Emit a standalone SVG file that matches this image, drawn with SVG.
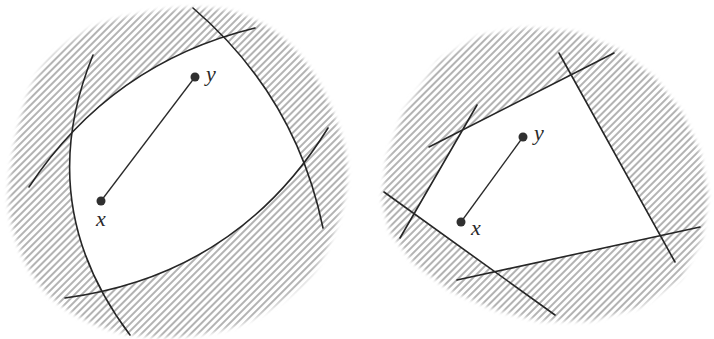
<svg xmlns="http://www.w3.org/2000/svg" width="714" height="339" viewBox="0 0 714 339">
<style>
.bd{fill:none;stroke:#262626;stroke-width:1.6;stroke-linecap:round}
.seg{stroke:#2a2a2a;stroke-width:1.3}
.pt{fill:#303030}
.lb{font-family:"Liberation Serif",serif;font-style:italic;font-size:22px;fill:#2a2a2a}
</style>
<defs>
<pattern id="hatch" patternUnits="userSpaceOnUse" width="5" height="10" patternTransform="rotate(45)">
<line x1="1" y1="0" x2="1" y2="10" stroke="#808080" stroke-width="1.2"/>
</pattern>
<filter id="soft" x="-10%" y="-10%" width="120%" height="120%"><feGaussianBlur stdDeviation="2"/></filter>
<mask id="mL" maskUnits="userSpaceOnUse" x="0" y="0" width="714" height="339">
<path filter="url(#soft)" fill="#fff" d="M9,185 C11.2,157.2 20.7,108.3 33,83 C45.3,57.7 65.2,44.5 83,33 C100.8,21.5 121.3,18.2 140,14 C158.7,9.8 178.3,8 195,8 C211.7,8 225,8.7 240,14 C255,19.3 271.7,28.2 285,40 C298.3,51.8 310,66.7 320,85 C330,103.3 341.2,130 345,150 C348.8,170 347.5,185.8 343,205 C338.5,224.2 328,249.2 318,265 C308,280.8 297.2,289.7 283,300 C268.8,310.3 252.3,320.8 233,327 C213.7,333.2 188.3,336.8 167,337 C145.7,337.2 124.2,334.5 105,328 C85.8,321.5 66.2,311 52,298 C37.8,285 27.2,268.8 20,250 C12.8,231.2 6.8,212.8 9,185 Z"/>
</mask>
<mask id="mR" maskUnits="userSpaceOnUse" x="0" y="0" width="714" height="339">
<path filter="url(#soft)" fill="#fff" stroke="#fff" stroke-width="6" stroke-linejoin="round" d="M385,200 L390,158 L407,112 L441,63 L480,39 L526,31 L575,35 L619,53 L653,80 L679,113 L697,152 L705,195 L699,238 L678,277 L639,304 L590,318 L540,318 L496,307 L452,288 L415,260 L393,231 Z"/>
</mask>
<clipPath id="cA"><path d="M0,240 L29,187 Q111,63 255,28 L400,0 L400,400 L0,400 Z"/></clipPath>
<clipPath id="cB"><path d="M193,8 Q296,96 323,228 L330,400 L0,400 L0,0 L190,0 Z"/></clipPath>
<clipPath id="cC"><path d="M65,298 Q237,275 328,128 L350,0 L0,0 L0,300 Z"/></clipPath>
<clipPath id="cD"><path d="M93,55 Q32,205 130,335 L400,340 L400,0 L100,0 Z"/></clipPath>
</defs>
<rect width="714" height="339" fill="#fff"/>

<g id="left-figure">
<rect width="714" height="339" fill="url(#hatch)" mask="url(#mL)"/>
<g clip-path="url(#cA)"><g clip-path="url(#cB)"><g clip-path="url(#cC)"><rect x="0" y="0" width="360" height="339" fill="#fff" clip-path="url(#cD)"/></g></g></g>
<g id="left-boundaries">
<path class="bd" d="M29,187 Q111,63 255,28"/>
<path class="bd" d="M193,8 Q296,96 323,228"/>
<path class="bd" d="M65,298 Q237,275 328,128"/>
<path class="bd" d="M93,55 Q32,205 130,335"/>
</g>
<g id="left-points">
<line class="seg" x1="101" y1="201" x2="195" y2="77"/>
<circle class="pt" cx="101" cy="201" r="4.5"/>
<circle class="pt" cx="195" cy="77" r="4.5"/>
<text class="lb" x="206" y="81">y</text>
<text class="lb" x="96" y="226">x</text>
</g>
</g>

<g id="right-figure">
<rect width="714" height="339" fill="url(#hatch)" mask="url(#mR)"/>
<polygon fill="#fff" points="463,130 571,75 660,236 495,272 414,214"/>
<g id="right-boundaries">
<line class="bd" x1="429" y1="147" x2="614" y2="53"/>
<line class="bd" x1="559" y1="53" x2="675" y2="262"/>
<line class="bd" x1="457" y1="280" x2="700" y2="227"/>
<line class="bd" x1="384" y1="192" x2="555" y2="315"/>
<line class="bd" x1="477" y1="105" x2="400" y2="238"/>
</g>
<g id="right-points">
<line class="seg" x1="461" y1="222" x2="523" y2="137"/>
<circle class="pt" cx="461" cy="222" r="4.5"/>
<circle class="pt" cx="523" cy="137" r="4.5"/>
<text class="lb" x="534" y="140">y</text>
<text class="lb" x="471" y="235">x</text>
</g>
</g>
</svg>
